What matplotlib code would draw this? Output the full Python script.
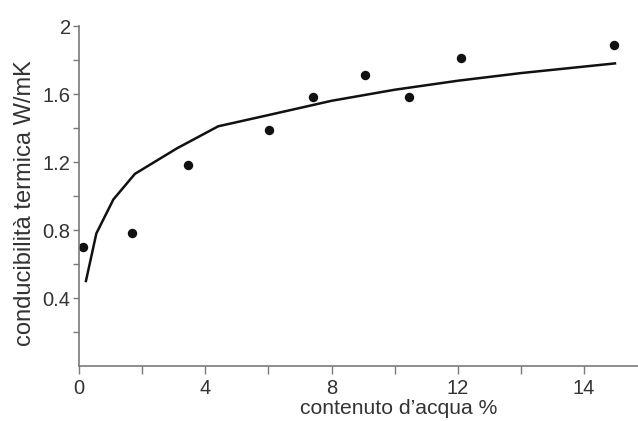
import numpy as np
from matplotlib import pyplot as plt

# measured points: water content vs thermal conductivity
water = [0.12, 1.69, 3.46, 6.02, 7.40, 9.06, 10.47, 12.09, 16.95]
conductivity = [0.70, 0.78, 1.18, 1.39, 1.58, 1.71, 1.58, 1.81, 1.89]

# fitted trend line vertices
fit_x = [0.22, 0.55, 1.09, 1.77, 3.10, 4.41, 6.0, 8.0, 10.0, 12.0, 14.0, 16.98]
fit_y = [0.50, 0.78, 0.98, 1.13, 1.28, 1.41, 1.476, 1.56, 1.625, 1.678, 1.723, 1.78]

x_tick_pos = [0, 4, 8, 12, 16]
x_tick_labels = ["0", "4", "8", "12", "14"]
y_tick_pos = [0.4, 0.8, 1.2, 1.6, 2.0]
y_tick_labels = ["0.4", "0.8", "1.2", "1.6", "2"]

plt.rcParams['font.family'] = ['Liberation Sans', 'DejaVu Sans']

fig = plt.figure(figsize=(6.38, 4.21), dpi=100)
ax = fig.add_axes([79 / 638, 55 / 421, 559 / 638, 340 / 421])

ax.plot(fit_x, fit_y, color='#111111', linewidth=1.8, solid_joinstyle='miter')
ax.plot(water, conductivity, 'o', color='#111111', markersize=6.8, markeredgewidth=0)

ax.set_xlim(0, 17.71)
ax.set_ylim(0, 2.0)

ax.spines['top'].set_visible(False)
ax.spines['right'].set_visible(False)
for s in ('left', 'bottom'):
    ax.spines[s].set_color('#7a7a7a')
    ax.spines[s].set_linewidth(1.2)

ax.set_xticks(x_tick_pos)
ax.set_xticklabels(x_tick_labels)
ax.set_xticks(np.arange(2, 17, 4), minor=True)
ax.set_yticks(y_tick_pos)
ax.set_yticklabels(y_tick_labels)
ax.set_yticks([0.2, 0.6, 1.0, 1.4, 1.8], minor=True)

ax.tick_params(axis='x', which='both', direction='out', length=6, width=1,
               color='#7a7a7a', labelsize=14.5, labelcolor='#333333', pad=3)
ax.tick_params(axis='y', which='both', direction='out', length=4, width=1,
               color='#7a7a7a', labelsize=14.5, labelcolor='#333333', pad=2)

fig.text(399 / 638, 1 - 409 / 421, "contenuto d\u2019acqua %", ha='center', va='center',
         fontsize=15.2, color='#333333')
fig.text(25 / 638, 1 - 203 / 421, "conducibilità termica W/mK", ha='center', va='center',
         rotation=90, fontsize=17, color='#333333')

fig.savefig('out.png', dpi=100)
